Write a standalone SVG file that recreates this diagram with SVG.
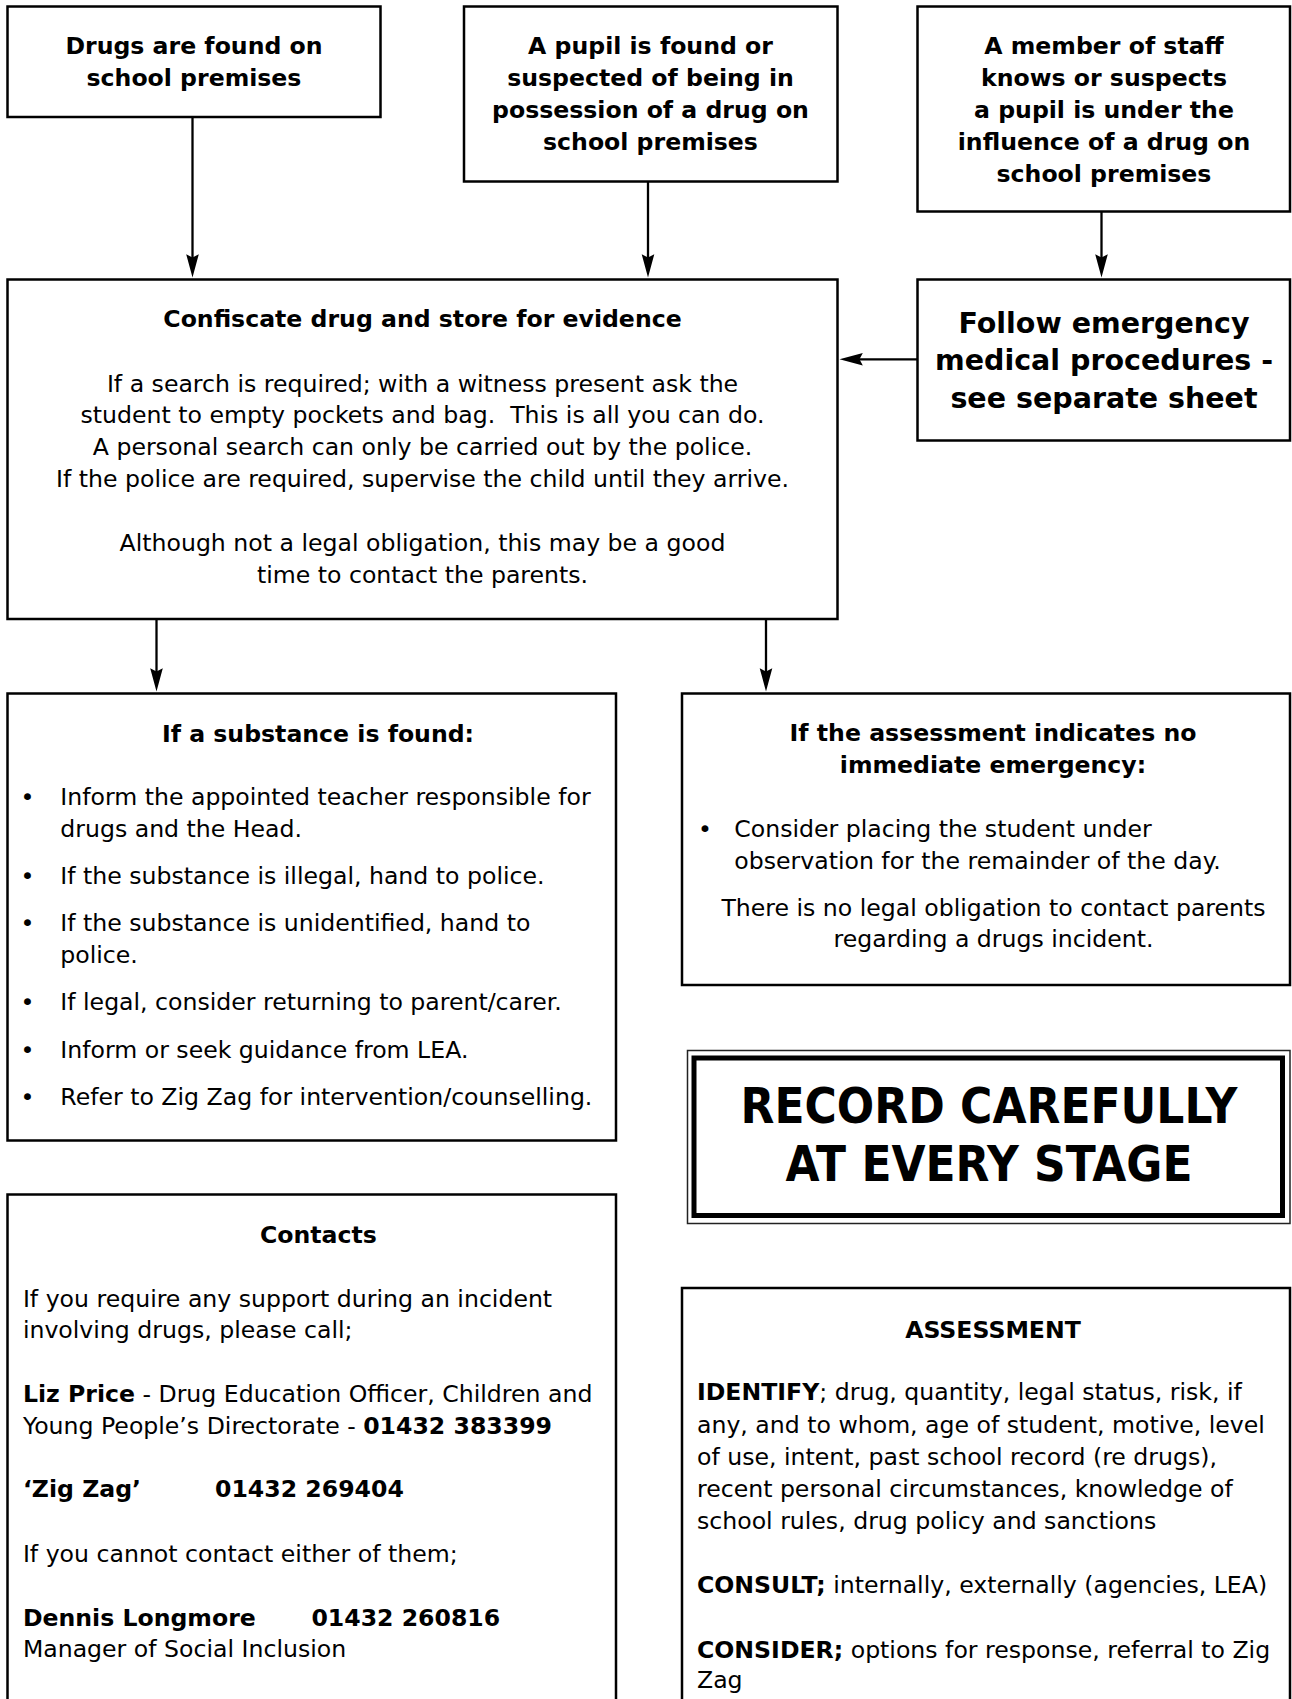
<svg xmlns="http://www.w3.org/2000/svg" width="1292" height="1699" viewBox="0 0 1292 1699">
<style>
.box{fill:#fff;stroke:#000;stroke-width:2.5}
.t{font-family:'DejaVu Sans',Verdana,sans-serif;font-size:23.6px;fill:#000}
.b{font-weight:bold}
.c{text-anchor:middle}
.big{font-size:28.5px}
.huge{font-size:49px}
.conn{stroke:#000;stroke-width:2.3;fill:none;marker-end:url(#ah)}
</style>
<defs>
<marker id="ah" markerUnits="userSpaceOnUse" markerWidth="24" markerHeight="14" refX="5.3" refY="7" orient="auto" viewBox="0 0 24 14">
<path d="M0,0.7 L23.3,7 L0,13.3 L3.3,7 Z" fill="#000"/>
</marker>
</defs>
<rect width="1292" height="1699" fill="#fff"/>

<g id="connectors">
<line class="conn" x1="192.5" y1="117" x2="192.5" y2="259.5"/>
<line class="conn" x1="648" y1="181.5" x2="648" y2="259.5"/>
<line class="conn" x1="1101.5" y1="211.5" x2="1101.5" y2="259.5"/>
<line class="conn" x1="917.5" y1="359.3" x2="857.5" y2="359.3"/>
<line class="conn" x1="156.5" y1="619" x2="156.5" y2="673.5"/>
<line class="conn" x1="766" y1="619" x2="766" y2="673.5"/>
</g>

<g id="drugs-found">
<rect class="box" x="7.5" y="6.5" width="373" height="110.5"/>
<text class="t b c" x="194" y="54.3">Drugs are found on</text>
<text class="t b c" x="194" y="86">school premises</text>
</g>

<g id="pupil-possession">
<rect class="box" x="464" y="6.5" width="373.5" height="175"/>
<text class="t b c" x="650.5" y="54">A pupil is found or</text>
<text class="t b c" x="650.5" y="86">suspected of being in</text>
<text class="t b c" x="650.5" y="118">possession of a drug on</text>
<text class="t b c" x="650.5" y="150">school premises</text>
</g>

<g id="staff-suspects">
<rect class="box" x="917.5" y="6.5" width="372.5" height="205"/>
<text class="t b c" x="1104" y="54">A member of staff</text>
<text class="t b c" x="1104" y="86">knows or suspects</text>
<text class="t b c" x="1104" y="118">a pupil is under the</text>
<text class="t b c" x="1104" y="150">influence of a drug on</text>
<text class="t b c" x="1104" y="182">school premises</text>
</g>

<g id="confiscate">
<rect class="box" x="7.5" y="279.5" width="830" height="339.5"/>
<text class="t b c" x="422.5" y="326.7">Confiscate drug and store for evidence</text>
<text class="t c" x="422.5" y="391.7">If a search is required; with a witness present ask the</text>
<text class="t c" x="422.5" y="423.3">student to empty pockets and bag.&#160; This is all you can do.</text>
<text class="t c" x="422.5" y="455">A personal search can only be carried out by the police.</text>
<text class="t c" x="422.5" y="486.7">If the police are required, supervise the child until they arrive.</text>
<text class="t c" x="422.5" y="550.7">Although not a legal obligation, this may be a good</text>
<text class="t c" x="422.5" y="582.7">time to contact the parents.</text>
</g>

<g id="emergency">
<rect class="box" x="917.5" y="279.5" width="372.5" height="161"/>
<text class="t b c big" x="1104" y="332.5">Follow emergency</text>
<text class="t b c big" x="1104" y="370">medical procedures -</text>
<text class="t b c big" x="1104" y="407.5">see separate sheet</text>
</g>

<g id="substance-found">
<rect class="box" x="7.5" y="693.5" width="608.5" height="447"/>
<text class="t b c" x="318" y="741.7">If a substance is found:</text>
<text class="t c" x="27.5" y="805">•</text>
<text class="t" x="60.3" y="805">Inform the appointed teacher responsible for</text>
<text class="t" x="60.3" y="836.7">drugs and the Head.</text>
<text class="t c" x="27.5" y="884">•</text>
<text class="t" x="60.3" y="884">If the substance is illegal, hand to police.</text>
<text class="t c" x="27.5" y="930.7">•</text>
<text class="t" x="60.3" y="930.7">If the substance is unidentified, hand to</text>
<text class="t" x="60.3" y="962.7">police.</text>
<text class="t c" x="27.5" y="1010">•</text>
<text class="t" x="60.3" y="1010">If legal, consider returning to parent/carer.</text>
<text class="t c" x="27.5" y="1058">•</text>
<text class="t" x="60.3" y="1058">Inform or seek guidance from LEA.</text>
<text class="t c" x="27.5" y="1105">•</text>
<text class="t" x="60.3" y="1105">Refer to Zig Zag for intervention/counselling.</text>
</g>

<g id="no-emergency">
<rect class="box" x="682" y="693.5" width="608" height="291.5"/>
<text class="t b c" x="993" y="741.4">If the assessment indicates no</text>
<text class="t b c" x="993" y="773.4">immediate emergency:</text>
<text class="t c" x="705" y="837">•</text>
<text class="t" x="734.3" y="837">Consider placing the student under</text>
<text class="t" x="734.3" y="868.6">observation for the remainder of the day.</text>
<text class="t c" x="993.5" y="915.7">There is no legal obligation to contact parents</text>
<text class="t c" x="993.5" y="947.1">regarding a drugs incident.</text>
</g>

<g id="record">
<rect x="687.5" y="1050.5" width="602.5" height="173" fill="#fff" stroke="#222" stroke-width="1.5"/>
<rect x="694" y="1058" width="588.5" height="157.5" fill="none" stroke="#000" stroke-width="5"/>
<text class="t b c huge" x="989" y="1123" textLength="497" lengthAdjust="spacingAndGlyphs">RECORD CAREFULLY</text>
<text class="t b c huge" x="989" y="1180.5" textLength="407" lengthAdjust="spacingAndGlyphs">AT EVERY STAGE</text>
</g>

<g id="contacts">
<rect class="box" x="7.5" y="1194.5" width="608.5" height="520"/>
<text class="t b c" x="318.4" y="1242.7">Contacts</text>
<text class="t" x="22.9" y="1306.7">If you require any support during an incident</text>
<text class="t" x="22.9" y="1338.3">involving drugs, please call;</text>
<text class="t" x="22.9" y="1401.7"><tspan class="b">Liz Price</tspan> - Drug Education Officer, Children and</text>
<text class="t" x="22.9" y="1434">Young People’s Directorate - <tspan class="b">01432 383399</tspan></text>
<text class="t b" x="22.9" y="1496.7">‘Zig Zag’</text>
<text class="t b" x="215" y="1496.7">01432 269404</text>
<text class="t" x="22.9" y="1561.7">If you cannot contact either of them;</text>
<text class="t b" x="22.9" y="1626">Dennis Longmore</text>
<text class="t b" x="311.4" y="1626">01432 260816</text>
<text class="t" x="22.9" y="1657.3">Manager of Social Inclusion</text>
</g>

<g id="assessment">
<rect class="box" x="682" y="1288" width="608" height="430"/>
<text class="t b c" x="993" y="1337.7">ASSESSMENT</text>
<text class="t" x="697" y="1400"><tspan class="b">IDENTIFY</tspan>; drug, quantity, legal status, risk, if</text>
<text class="t" x="697" y="1433.3">any, and to whom, age of student, motive, level</text>
<text class="t" x="697" y="1465">of use, intent, past school record (re drugs),</text>
<text class="t" x="697" y="1496.7">recent personal circumstances, knowledge of</text>
<text class="t" x="697" y="1529.3">school rules, drug policy and sanctions</text>
<text class="t" x="697" y="1593.3"><tspan class="b">CONSULT;</tspan> internally, externally (agencies, LEA)</text>
<text class="t" x="697" y="1658.3"><tspan class="b">CONSIDER;</tspan> options for response, referral to Zig</text>
<text class="t" x="697" y="1688.3">Zag</text>
</g>
</svg>
